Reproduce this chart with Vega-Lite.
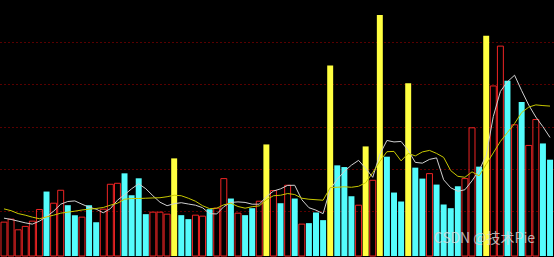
{
  "$schema": "https://vega.github.io/schema/vega-lite/v6.json",
  "width": 554,
  "height": 257,
  "padding": 0,
  "autosize": {"type": "fit", "contains": "padding"},
  "background": "#000000",
  "config": {"view": {"stroke": null}},
  "datasets": {
    "bars": [
      {"i":0,"t":"up","v":34,"a":38,"b":47.3},
      {"i":1,"t":"up","v":37,"a":36.7,"b":45.5},
      {"i":2,"t":"up","v":26.3,"a":35,"b":42.6},
      {"i":3,"t":"up","v":29.7,"a":33.3,"b":41},
      {"i":4,"t":"up","v":35,"a":32,"b":39},
      {"i":5,"t":"up","v":46.7,"a":35,"b":37.4},
      {"i":6,"t":"down","v":64.7,"a":39.5,"b":39.2},
      {"i":7,"t":"up","v":53,"a":45,"b":41},
      {"i":8,"t":"up","v":66,"a":52,"b":43},
      {"i":9,"t":"down","v":51,"a":54.7,"b":44},
      {"i":10,"t":"down","v":41,"a":55.3,"b":45},
      {"i":11,"t":"up","v":39,"a":52,"b":46.2},
      {"i":12,"t":"down","v":51,"a":49,"b":47},
      {"i":13,"t":"down","v":34,"a":47,"b":47.7},
      {"i":14,"t":"up","v":47,"a":43.4,"b":48.7},
      {"i":15,"t":"up","v":72,"a":47.5,"b":51},
      {"i":16,"t":"up","v":73,"a":56,"b":53},
      {"i":17,"t":"down","v":83,"a":61.5,"b":57},
      {"i":18,"t":"down","v":61,"a":67.5,"b":57.7},
      {"i":19,"t":"down","v":78,"a":72.5,"b":57.7},
      {"i":20,"t":"down","v":42,"a":67.5,"b":58},
      {"i":21,"t":"up","v":44,"a":60.5,"b":58.3},
      {"i":22,"t":"up","v":44,"a":54,"b":58.5},
      {"i":23,"t":"up","v":42,"a":50.5,"b":59.5},
      {"i":24,"t":"surge","v":98,"a":52.5,"b":61},
      {"i":25,"t":"down","v":41,"a":53.5,"b":60.5},
      {"i":26,"t":"down","v":37,"a":52.2,"b":58},
      {"i":27,"t":"up","v":41,"a":51,"b":55},
      {"i":28,"t":"up","v":40,"a":48.5,"b":50.5},
      {"i":29,"t":"down","v":47,"a":42.5,"b":47.5},
      {"i":30,"t":"up","v":48,"a":42.2,"b":48},
      {"i":31,"t":"up","v":77.7,"a":49.5,"b":51.4},
      {"i":32,"t":"down","v":57.7,"a":53.8,"b":53},
      {"i":33,"t":"up","v":43,"a":54.3,"b":49.7},
      {"i":34,"t":"down","v":41,"a":53.8,"b":48},
      {"i":35,"t":"down","v":48,"a":52,"b":49.5},
      {"i":36,"t":"up","v":55,"a":52,"b":50.3},
      {"i":37,"t":"surge","v":112,"a":59.5,"b":56.5},
      {"i":38,"t":"up","v":65.7,"a":65.2,"b":60.5},
      {"i":39,"t":"down","v":53,"a":67.4,"b":61},
      {"i":40,"t":"up","v":71,"a":70.9,"b":62.7},
      {"i":41,"t":"down","v":57.7,"a":71,"b":61.7},
      {"i":42,"t":"up","v":32,"a":56.5,"b":58},
      {"i":43,"t":"down","v":33,"a":48.5,"b":57},
      {"i":44,"t":"down","v":43.7,"a":46,"b":56.5},
      {"i":45,"t":"down","v":36,"a":42.5,"b":56},
      {"i":46,"t":"surge","v":191.3,"a":67,"b":68.7},
      {"i":47,"t":"down","v":91,"a":77,"b":69},
      {"i":48,"t":"down","v":89.3,"a":85,"b":69.5},
      {"i":49,"t":"down","v":60,"a":91.2,"b":69},
      {"i":50,"t":"up","v":51,"a":96,"b":70},
      {"i":51,"t":"surge","v":110,"a":88,"b":73.5},
      {"i":52,"t":"up","v":76,"a":79,"b":83.7},
      {"i":53,"t":"surge","v":242,"a":102,"b":95},
      {"i":54,"t":"down","v":99.7,"a":116,"b":104.7},
      {"i":55,"t":"down","v":63.7,"a":114.5,"b":105},
      {"i":56,"t":"down","v":54.7,"a":115,"b":95.5},
      {"i":57,"t":"surge","v":173.3,"a":106,"b":103},
      {"i":58,"t":"down","v":88.7,"a":94,"b":100.5},
      {"i":59,"t":"down","v":77.7,"a":93.2,"b":104.5},
      {"i":60,"t":"up","v":82.7,"a":97,"b":106},
      {"i":61,"t":"down","v":71.7,"a":98.5,"b":103},
      {"i":62,"t":"down","v":51.7,"a":76.5,"b":99},
      {"i":63,"t":"down","v":48,"a":68.5,"b":85.7},
      {"i":64,"t":"down","v":70,"a":65,"b":80},
      {"i":65,"t":"up","v":77.7,"a":66.5,"b":79},
      {"i":66,"t":"up","v":128.7,"a":75.5,"b":84.5},
      {"i":67,"t":"down","v":89.7,"a":86,"b":80.5},
      {"i":68,"t":"surge","v":221,"a":101,"b":92},
      {"i":69,"t":"up","v":170.7,"a":140,"b":103.5},
      {"i":70,"t":"up","v":210.7,"a":165.2,"b":115},
      {"i":71,"t":"down","v":176,"a":175,"b":124},
      {"i":72,"t":"up","v":131.7,"a":181.5,"b":133},
      {"i":73,"t":"down","v":154.7,"a":166,"b":144},
      {"i":74,"t":"up","v":111,"a":151.5,"b":149.5},
      {"i":75,"t":"up","v":137,"a":139.5,"b":151.7},
      {"i":76,"t":"down","v":113,"a":129.8,"b":151},
      {"i":77,"t":"down","v":96.7,"a":119,"b":150.5}
    ],
    "mark": [
      {"i":61,"label":"CSDN @技术Pie","v":13}
    ]
  },
  "layer": [
    {
      "data": {"name": "bars"},
      "transform": [{"filter": "datum.t == 'up'"}],
      "mark": {"type": "bar", "filled": false, "color": "#ee2424", "strokeWidth": 1},
      "encoding": {
        "x": {"field": "i", "type": "ordinal", "axis": null, "scale": {"paddingInner": 0.16, "paddingOuter": 0.14}},
        "y": {"field": "v", "type": "quantitative", "scale": {"domain": [0, 257], "nice": false, "zero": true},
          "axis": {"values": [45, 87.5, 130, 172.5, 215], "grid": true, "gridColor": "#b00000", "gridDash": [1, 3], "gridWidth": 1, "labels": false, "ticks": false, "domain": false, "title": null}}
      }
    },
    {
      "data": {"name": "bars"},
      "transform": [{"filter": "datum.t != 'up'"}],
      "mark": {"type": "bar"},
      "encoding": {
        "x": {"field": "i", "type": "ordinal", "axis": null},
        "y": {"field": "v", "type": "quantitative", "scale": {"domain": [0, 257], "nice": false}},
        "color": {"field": "t", "type": "nominal", "legend": null, "scale": {"domain": ["down", "surge"], "range": ["#54fcfc", "#ffff40"]}}
      }
    },
    {
      "data": {"name": "bars"},
      "mark": {"type": "line", "color": "#d0d0d0", "strokeWidth": 1},
      "encoding": {
        "x": {"field": "i", "type": "ordinal", "axis": null},
        "y": {"field": "a", "type": "quantitative", "scale": {"domain": [0, 257], "nice": false}}
      }
    },
    {
      "data": {"name": "bars"},
      "mark": {"type": "line", "color": "#c8c800", "strokeWidth": 1},
      "encoding": {
        "x": {"field": "i", "type": "ordinal", "axis": null},
        "y": {"field": "b", "type": "quantitative", "scale": {"domain": [0, 257], "nice": false}}
      }
    },
    {
      "data": {"name": "mark"},
      "mark": {"type": "text", "align": "left", "baseline": "alphabetic", "fontSize": 14, "font": "Noto Sans CJK SC", "color": "#d8d8d8", "opacity": 0.8},
      "encoding": {
        "x": {"field": "i", "type": "ordinal", "axis": null, "bandPosition": 0},
        "y": {"field": "v", "type": "quantitative", "scale": {"domain": [0, 257], "nice": false}},
        "text": {"field": "label"}
      }
    }
  ]
}
